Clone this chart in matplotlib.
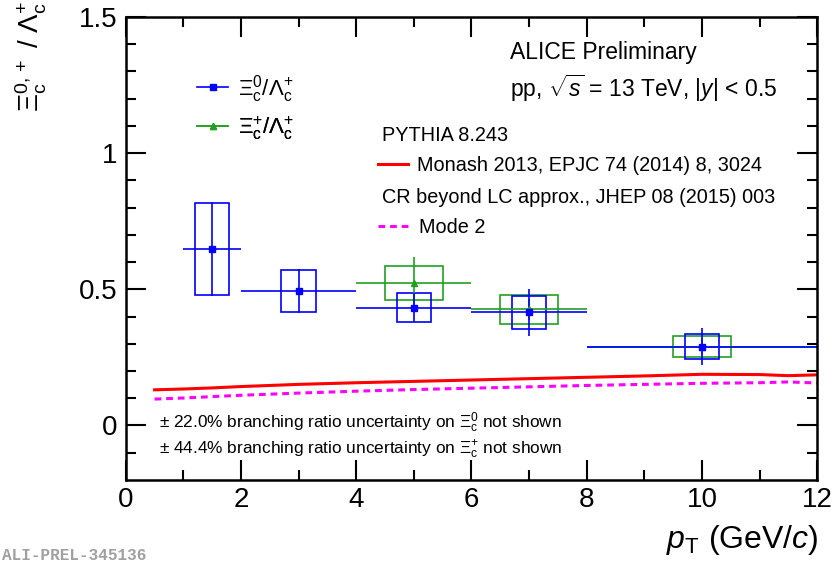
import numpy as np
import matplotlib
matplotlib.use("Agg")
from matplotlib import pyplot as plt
from matplotlib.patches import Rectangle
from matplotlib.lines import Line2D

plt.rcParams['font.family'] = ['Liberation Sans', 'DejaVu Sans']
plt.rcParams['mathtext.fontset'] = 'custom'
plt.rcParams['mathtext.rm'] = 'Liberation Sans'
plt.rcParams['mathtext.it'] = 'Liberation Sans:italic'
plt.rcParams['mathtext.bf'] = 'Liberation Sans:bold'

# Xi_c0 / Lambda_c+ (blue)
pt_xi0 = [1.5, 3.0, 5.0, 7.0, 10.0]
bin_xi0 = [0.5, 1.0, 1.0, 1.0, 2.0]
r_xi0 = [0.647, 0.493, 0.433, 0.415, 0.290]
stat_xi0 = [0.172, 0.080, 0.052, 0.088, 0.068]
syst_xi0 = [0.169, 0.078, 0.053, 0.059, 0.046]

# Xi_c+ / Lambda_c+ (green)
pt_xip = [5.0, 7.0, 10.0]
bin_xip = [1.0, 1.0, 2.0]
r_xip = [0.522, 0.426, 0.290]
stat_xip = [0.095, 0.040, 0.030]
syst_xip = [0.063, 0.052, 0.037]

# PYTHIA 8.243 predictions
pt_model = [0.5, 1, 1.5, 2, 3, 4, 5, 6, 7, 8, 9, 10, 11, 11.5, 12]
monash = [0.131, 0.134, 0.138, 0.143, 0.151, 0.157, 0.162, 0.167, 0.172, 0.177,
          0.182, 0.188, 0.187, 0.183, 0.186]
mode2 = [0.097, 0.101, 0.106, 0.111, 0.119, 0.126, 0.132, 0.137, 0.142, 0.147,
         0.151, 0.155, 0.157, 0.160, 0.156]

blue = '#0000ff'
green = '#22a022'
red = '#ff0000'
magenta = '#ff00ff'
dash = (0, (2.2, 1.6))

fig = plt.figure(figsize=(8.33, 5.66), dpi=100)
ax = fig.add_axes([0.151, 0.152, 0.830, 0.818])

ax.plot(pt_model, monash, color=red, lw=2.2)
ax.plot(pt_model, mode2, color=magenta, lw=2.2, ls=dash)

def draw_set(x, xe, y, ye, sy, col, half_w, marker, ms):
    for xi, yi, s in zip(x, y, sy):
        ax.add_patch(Rectangle((xi - half_w, yi - s), 2 * half_w, 2 * s,
                               fill=False, edgecolor=col, lw=1.2))
    ax.errorbar(x, y, xerr=xe, yerr=ye, fmt=marker, color=col, ms=ms,
                elinewidth=1.2, capsize=0)

# green first so the blue points sit on top
draw_set(pt_xip, bin_xip, r_xip, stat_xip, syst_xip, green, 0.5, '^', 5)
draw_set(pt_xi0, bin_xi0, r_xi0, stat_xi0, syst_xi0, blue, 0.3, 's', 5)

ax.set_xlim(0, 12)
ax.set_ylim(-0.2, 1.5)
ax.set_xticks([0, 2, 4, 6, 8, 10, 12])
ax.set_xticks(np.arange(1, 12, 2), minor=True)
ax.set_yticks([0, 0.5, 1, 1.5])
ax.set_yticklabels(['0', '0.5', '1', '1.5'])
ax.set_yticks(np.arange(-0.1, 1.5, 0.1), minor=True)
ax.tick_params(which='both', direction='in', top=True, right=True,
               labelsize=20, width=1.5)
ax.tick_params(axis='x', pad=5)
ax.tick_params(axis='y', pad=6)
ax.tick_params(which='major', length=14.5)
ax.tick_params(which='minor', length=7.5)
for sp in ax.spines.values():
    sp.set_linewidth(1.8)

# text block
ax.text(0.556, 0.924, 'ALICE Preliminary', transform=ax.transAxes,
        fontsize=16.5, va='center')
ax.text(0.556, 0.847, r'pp, $\sqrt{s}$ = 13 TeV, $|y|$ < 0.5',
        transform=ax.transAxes, fontsize=16.5, va='center')
ax.text(0.370, 0.745, 'PYTHIA 8.243', transform=ax.transAxes,
        fontsize=14.3, va='center')
ax.text(0.370, 0.611, 'CR beyond LC approx., JHEP 08 (2015) 003',
        transform=ax.transAxes, fontsize=14.3, va='center')

def key(handle, label, x, y, size, hl):
    leg = ax.legend([handle], [label], loc='center left', bbox_to_anchor=(x, y),
                    frameon=False, fontsize=size, handlelength=hl,
                    borderaxespad=0, borderpad=0, handletextpad=0.45)
    ax.add_artist(leg)

key(Line2D([], [], color=red, lw=2.2), 'Monash 2013, EPJC 74 (2014) 8, 3024',
    0.365, 0.680, 14.3, 1.5)
key(Line2D([], [], color=magenta, lw=2.2, ls=dash), 'Mode 2',
    0.365, 0.546, 14.3, 1.6)
key(Line2D([], [], color=blue, marker='s', ms=5, lw=1.2),
    r'$\Xi_{\rm c}^{0}/\Lambda_{\rm c}^{+}$', 0.103, 0.845, 16, 1.4)
key(Line2D([], [], color=green, marker='^', ms=5, lw=1.2),
    r'$\Xi_{\rm c}^{+}/\Lambda_{\rm c}^{+}$', 0.103, 0.760, 16, 1.4)

ax.text(0.048, 0.123, r'$\pm$ 22.0% branching ratio uncertainty on $\Xi_{\rm c}^{0}$ not shown',
        transform=ax.transAxes, fontsize=12.4, va='center')
ax.text(0.048, 0.065, r'$\pm$ 44.4% branching ratio uncertainty on $\Xi_{\rm c}^{+}$ not shown',
        transform=ax.transAxes, fontsize=12.4, va='center')

fig.text(0.038, 0.997, r'$\Xi_{\rm c}^{0,+}$ / $\Lambda_{\rm c}^{+}$', rotation=90,
         ha='center', va='top', fontsize=20)
fig.text(0.982, 0.046, r'$p_{\rm T}$ (GeV/$c$)', ha='right', va='center', fontsize=23)
fig.text(0.003, 0.018, 'ALI-PREL-345136', family='Liberation Mono', weight='bold',
         color='#a0a0a0', fontsize=11.5, ha='left', va='center')

fig.savefig('out.png', dpi=100)
